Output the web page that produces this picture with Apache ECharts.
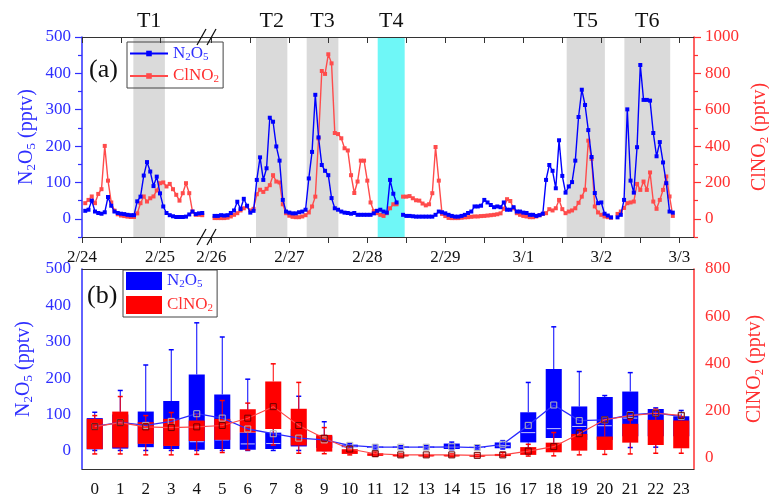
<!DOCTYPE html>
<html><head><meta charset="utf-8">
<script src="https://cdn.jsdelivr.net/npm/echarts@6/dist/echarts.min.js"></script>
<style>html,body{margin:0;padding:0;background:#fff}#c{width:769px;height:501px}</style>
</head><body><div id="c"></div>
<script>
// ---------- DATA ----------
// panel (a): hourly values; x in hours since 2/24 00:00
const seg1Start = 1;   // first point of segment before the break
const seg2Start = 49;  // first point of segment after the break
const n2o5Seg1 = [22, 25, 50, 20, 16, 14, 18, 60, 36, 20, 16, 14, 13, 11, 10, 10, 48, 61, 119, 156, 130, 90, 116, 70, 34, 16, 10, 7, 5, 5, 5, 6, 12, 20, 13, 15, 16];
const clno2Seg1 = [86, 104, 123, 86, 137, 163, 401, 210, 90, 45, 25, 18, 15, 12, 10, 10, 30, 86, 123, 95, 113, 123, 156, 196, 200, 178, 192, 163, 132, 100, 141, 196, 141, 40, 22, 22, 20];
const n2o5Seg2 = [8, 8, 10, 9, 10, 16, 23, 47, 27, 55, 36, 17, 22,
  107, 169, 107, 139, 278, 267, 199, 160, 52, 20, 17, 15, 15, 18, 20, 25,
  111, 184, 341, 224, 148, 132, 120, 57, 29, 25, 20, 17, 16, 14, 16, 11, 11, 11, 11, 11, 15, 22, 25, 20, 17, 107, 69, 45,
  null,
  11, 8, 8, 7, 6, 6, 6, 6, 6, 6, 11, 20, 18,
  15, 11, 8, 6, 6, 8, 11, 16, 20, 34, 34, 36, 52, 45, 38, 32, 34, 32, 45, 25, 25, 32, 20, 20, 17, 16, 11, 11, 8, 10, 14,
  107, 148, 132, 84, 216, 118, 72, 89, 101, 160, 280, 355, 313, 244, 170, 71, 43, 45, 14, 9, 4,
  null,
  4, 11, 52, 301, 105, 72, 197, 423, 327, 327, 325, 236, 172, 211, 155, 98, 20, 17];
const clno2Seg2 = [4, 4, 4, 4, 6, 13, 22, 31, 46, 58, 68, 46, 55,
  135, 160, 148, 165, 185, 240, 205, 200, 80, 31, 17, 11, 9, 9, 13, 20,
  35, 68, 122, 442, 813, 797, 905, 855, 472, 466, 443, 388, 376, 240, 142, 205, 320, 320, 210, 90, 43, 31, 22, 16, 31, 58, 80, 80,
  null,
  122, 122, 125, 113, 102, 100, 84, 74, 80, 141, 395, 210, 27, 15, 5,
  4, 4, 4, 6, 8, 9, 11, 13, 13, 15, 16, 18, 20, 22, 25, 30, 55, 108, 98, 58, 31, 22, 16, 13, 9, 9, 13,
  20, 27, 31, 53, 46, 58, 104, 53, 31, 40, 46, 58, 88, 122, 160, 430, 330, 68, 35, 22, 13, 9, 6,
  null,
  27, 40, 60, 86, 90, 95, 192, 159, 205, 159, 255, 95, 55, 104, 159, 233, 123, 16];
const periodNames = ['T1', 'T2', 'T3', 'T4', 'T5', 'T6'];
const periodStart = [15.8, 61.75, 77.35, 99.2, 157.35, 175.1];
const periodEnd = [25.5, 71.4, 87.1, 107.5, 169.1, 189.2];
const dayLabels = ['2/24', '2/25', '2/26', '2/27', '2/28', '2/29', '3/1', '3/2', '3/3'];

// panel (b): diurnal box statistics [min, Q1, median, Q3, max]
const hourLabels = ['0','1','2','3','4','5','6','7','8','9','10','11','12','13','14','15','16','17','18','19','20','21','22','23'];
const n2o5Box = [[1,4,20,90,106],[1,6,30,100,166],[1,10,21,108,236],[1,5,15,137,278],[1,3,25,210,352],[1,5,30,155,313],
  [1,3,19,50,197],[1,5,20,50,150],[1,12,18,60,150],[1,8,15,40,80],[8,10,13,17,20],[5,8,10,12,16],
  [6,8,10,12,14],[5,8,10,12,15],[3,5,10,20,24],[5,8,9,11,14],[5,7,14,23,28],[5,23,50,106,188],
  [5,35,61,225,341],[5,30,67,122,218],[5,30,69,148,152],[9,40,90,163,215],[10,40,80,115,118],[10,40,80,95,111]];
const clno2Box = [[14,35,100,163,177],[14,41,120,194,258],[10,57,110,149,177],[10,48,110,163,190],[12,69,115,156,185],[20,74,120,163,241],
  [31,105,150,204,230],[52,120,200,322,397],[17,50,120,206,318],[15,24,70,95,126],[10,14,25,34,48],[4,6,10,17,22],
  [2,4,6,10,14],[2,4,6,9,12],[2,4,6,10,14],[2,3,5,8,12],[3,5,8,14,20],[5,10,22,43,55],
  [6,21,40,62,105],[10,28,80,99,116],[12,31,70,88,160],[14,62,120,142,159],[17,52,130,159,204],[17,38,120,156,173]];
const n2o5Mean = [67, 78, 70, 81, 102, 90, 60, 47, 35, 30, 15, 10, 10, 10, 11, 9, 18, 70, 126, 83, 85, 99, 104, 95];
const clno2Mean = [130, 147, 129, 126, 129, 135, 166, 215, 135, 81, 35, 15, 10, 10, 10, 8, 10, 26, 45, 100, 159, 177, 187, 178];

// ---------- CHART ----------
const FONT = 'Liberation Serif';
const BLUE = '#0000ff', BLUE_T = '#2e2eff', RED = '#ff4b4b', RED_T = '#ff3030', FRAME = '#333';
const chart = echarts.init(document.getElementById('c'), null, {renderer: 'canvas'});

const toPts = (arr, start) => arr.map((v, i) => [start + i, v == null ? '-' : v]);
const dayHours = dayLabels.map((d, i) => i * 24);
const dayFmt = v => dayLabels[Math.round(v / 24)];
const range = (a, b, s) => { const r = []; for (let v = a; v <= b + 1e-9; v += s) r.push(v); return r; };
const sub = {s: {fontFamily: FONT, fontSize: 13, padding: [9, 0, 0, 0]}};
const subL = {s: {fontFamily: FONT, fontSize: 11, padding: [7, 0, 0, 0]}};
const nameN = 'N{s|2}O{s|5} (pptv)', nameC = 'ClNO{s|2} (pptv)';

const g0min = 0, g0max = 125 / 3.25;
const g1min = 48 - 4.3 / 3.25, g1max = g1min + 487 / 3.25;

function xVal(grid, min, max, pos, ticks, labels) {
  return {
    gridIndex: grid, type: 'value', min: min, max: max, position: pos, z: 10,
    axisLine: {onZero: false, lineStyle: {color: FRAME, width: 1}},
    axisTick: {customValues: ticks, inside: pos === 'top', length: 6, lineStyle: {color: FRAME}},
    axisLabel: labels ? {customValues: labels, formatter: dayFmt, fontFamily: FONT, fontSize: 17, color: '#111', margin: 12} : {show: false},
    splitLine: {show: false}
  };
}
function yVal(grid, min, max, pos, color, major, name, gap) {
  const ax = {
    gridIndex: grid, type: 'value', min: min, max: max, position: pos, z: 10,
    axisLine: {show: true, onZero: false, lineStyle: {color: color, width: 1.5}},
    axisTick: {customValues: major, length: 7, lineStyle: {color: color, width: 1.2}},
    axisLabel: {customValues: major, formatter: v => String(v), fontFamily: FONT, fontSize: 17, color: color, margin: 11},
    splitLine: {show: false}
  };
  if (name) {
    ax.name = name; ax.nameLocation = 'middle'; ax.nameRotate = 90; ax.nameGap = gap;
    ax.nameTextStyle = {fontFamily: FONT, fontSize: 20, color: color, rich: sub};
  }
  return ax;
}
function yMinor(grid, min, max, pos, color, ticks) {
  return {
    gridIndex: grid, type: 'value', min: min, max: max, position: pos, z: 10,
    axisLine: {show: false, onZero: false},
    axisTick: {customValues: ticks, length: 4, lineStyle: {color: color, width: 1.2}},
    axisLabel: {show: false}, splitLine: {show: false}
  };
}

function boxRender(color, medColor) {
  return function (params, api) {
    const xi = api.value(0);
    const pMin = api.coord([xi, api.value(1)]);
    const pQ1 = api.coord([xi, api.value(2)]);
    const pMed = api.coord([xi, api.value(3)]);
    const pQ3 = api.coord([xi, api.value(4)]);
    const pMax = api.coord([xi, api.value(5)]);
    const bw = api.size([1, 0])[0] * 0.63;
    const cx = pQ1[0], cap = 5;
    const ln = (x1, y1, x2, y2, c, w) => ({type: 'line', shape: {x1, y1, x2, y2}, style: {stroke: c, lineWidth: w}});
    return {type: 'group', children: [
      ln(cx, pMax[1], cx, pQ3[1], color, 1),
      ln(cx, pQ1[1], cx, pMin[1], color, 1),
      ln(cx - cap / 2, pMax[1], cx + cap / 2, pMax[1], color, 1.5),
      ln(cx - cap / 2, pMin[1], cx + cap / 2, pMin[1], color, 1.5),
      {type: 'rect', shape: {x: cx - bw / 2, y: pQ3[1], width: bw, height: Math.max(1, pQ1[1] - pQ3[1])}, style: {fill: color}},
      ln(cx - bw / 2 + 1, pMed[1], cx + bw / 2 - 1, pMed[1], medColor, 1)
    ]};
  };
}

const areaItem = (i, color) => [{name: periodNames[i], xAxis: periodStart[i], itemStyle: {color: color}}, {xAxis: periodEnd[i]}];
const markAreaCfg = idx => ({
  silent: true,
  label: {show: true, position: 'top', distance: 5, fontFamily: FONT, fontSize: 22, color: '#111'},
  data: idx.map(i => areaItem(i, periodNames[i] === 'T4' ? '#6ff7f7' : '#dadada'))
});
const lineSeries = (name, xi, yi, data, color, extra) => Object.assign({
  type: 'line', name: name, xAxisIndex: xi, yAxisIndex: yi, data: data,
  symbol: 'rect', symbolSize: 4, showSymbol: true, connectNulls: false,
  lineStyle: {color: color, width: 1.4}, itemStyle: {color: color}, animation: false
}, extra || {});

const legendFmt = n => n.indexOf('N2O5') === 0 ? 'N{s|2}O{s|5}' : 'ClNO{s|2}';
const gridBase = {outerBoundsMode: 'none', containLabel: false};

const option = {
  animation: false,
  backgroundColor: '#fff',
  textStyle: {fontFamily: FONT},
  grid: [
    Object.assign({left: 82, top: 37, width: 125, height: 200}, gridBase),
    Object.assign({left: 207, top: 37, width: 487, height: 200}, gridBase),
    Object.assign({left: 82, top: 269, width: 612, height: 200}, gridBase)
  ],
  xAxis: [
    xVal(0, g0min, g0max, 'bottom', [0, 12, 24], [0, 24]),
    xVal(0, g0min, g0max, 'top', [0, 12, 24], null),
    xVal(1, g1min, g1max, 'bottom', range(48, 192, 12), dayHours.slice(2)),
    xVal(1, g1min, g1max, 'top', range(48, 192, 12), null),
    {gridIndex: 2, type: 'category', data: hourLabels, boundaryGap: true, position: 'bottom', z: 10,
      axisLine: {onZero: false, lineStyle: {color: FRAME}},
      axisTick: {alignWithLabel: true, length: 7, lineStyle: {color: FRAME}},
      axisLabel: {fontFamily: FONT, fontSize: 17, color: '#111', margin: 12, interval: 0}},
    {gridIndex: 2, type: 'category', data: hourLabels, boundaryGap: true, position: 'top', z: 10,
      axisLine: {onZero: false, lineStyle: {color: FRAME}}, axisTick: {show: false}, axisLabel: {show: false}}
  ],
  yAxis: [
    yVal(0, -50, 500, 'left', BLUE_T, range(0, 500, 100), nameN, 44),
    {gridIndex: 0, type: 'value', min: -100, max: 1000, show: false},
    {gridIndex: 1, type: 'value', min: -50, max: 500, show: false},
    yVal(1, -100, 1000, 'right', RED_T, range(0, 1000, 200), nameC, 50),
    yVal(2, -50, 500, 'left', BLUE_T, range(0, 500, 100), nameN, 44),
    yVal(2, -50, 800, 'right', RED_T, range(0, 800, 200), nameC, 50),
    yMinor(0, -50, 500, 'left', BLUE_T, range(-50, 450, 100)),
    yMinor(1, -100, 1000, 'right', RED_T, range(-100, 900, 200)),
    yMinor(2, -50, 500, 'left', BLUE_T, range(-50, 450, 100)),
    yMinor(2, -50, 800, 'right', RED_T, range(100, 700, 200))
  ],
  legend: [
    {data: [{name: 'N2O5', textStyle: {color: BLUE_T}}, {name: 'ClNO2', textStyle: {color: RED_T}}],
      orient: 'vertical', left: 127, top: 42, itemWidth: 38, itemHeight: 7, itemGap: 5,
      padding: [3, 4, 3, 2], borderColor: '#444', borderWidth: 1, selectedMode: false,
      textStyle: {fontFamily: FONT, fontSize: 17, rich: subL}, formatter: legendFmt},
    {data: [{name: 'N2O5 box', textStyle: {color: BLUE_T}}, {name: 'ClNO2 box', textStyle: {color: RED_T}}],
      orient: 'vertical', left: 123, top: 270, icon: 'rect', itemWidth: 36, itemHeight: 18, itemGap: 6,
      padding: [2, 4, 3, 3], borderColor: '#444', borderWidth: 1, backgroundColor: '#fff', selectedMode: false,
      textStyle: {fontFamily: FONT, fontSize: 17, rich: subL}, formatter: legendFmt}
  ],
  graphic: [
    {type: 'text', left: 89, top: 57, style: {text: '(a)', font: '26px ' + FONT, fill: '#111'}},
    {type: 'text', left: 87, top: 283, style: {text: '(b)', font: '26px ' + FONT, fill: '#111'}},
    {type: 'line', shape: {x1: 197, y1: 45, x2: 206, y2: 29}, style: {stroke: '#111', lineWidth: 1.3}, z: 100},
    {type: 'line', shape: {x1: 207, y1: 45, x2: 216, y2: 29}, style: {stroke: '#111', lineWidth: 1.3}, z: 100},
    {type: 'line', shape: {x1: 197, y1: 245, x2: 206, y2: 229}, style: {stroke: '#111', lineWidth: 1.3}, z: 100},
    {type: 'line', shape: {x1: 207, y1: 245, x2: 216, y2: 229}, style: {stroke: '#111', lineWidth: 1.3}, z: 100}
  ],
  series: [
    lineSeries('ClNO2', 0, 1, toPts(clno2Seg1, seg1Start), RED, {markArea: markAreaCfg([0]), z: 2}),
    lineSeries('N2O5', 0, 0, toPts(n2o5Seg1, seg1Start), BLUE, {z: 3}),
    lineSeries('ClNO2', 2, 3, toPts(clno2Seg2, seg2Start), RED, {markArea: markAreaCfg([1, 2, 3, 4, 5]), z: 2}),
    lineSeries('N2O5', 2, 2, toPts(n2o5Seg2, seg2Start), BLUE, {z: 3}),
    {type: 'custom', name: 'N2O5 box', xAxisIndex: 4, yAxisIndex: 4, z: 2,
      data: n2o5Box.map((b, i) => [i].concat(b)), encode: {x: 0, y: [1, 2, 3, 4, 5]},
      itemStyle: {color: BLUE}, renderItem: boxRender(BLUE, '#c8c8ff')},
    {type: 'custom', name: 'ClNO2 box', xAxisIndex: 4, yAxisIndex: 5, z: 3,
      data: clno2Box.map((b, i) => [i].concat(b)), encode: {x: 0, y: [1, 2, 3, 4, 5]},
      itemStyle: {color: '#ff0000'}, renderItem: boxRender('#ff0000', '#ff0000')},
    {type: 'line', name: 'N2O5 mean', xAxisIndex: 4, yAxisIndex: 4, data: n2o5Mean, z: 4,
      symbol: 'rect', symbolSize: 6, lineStyle: {color: '#2a2aff', width: 1.3},
      itemStyle: {color: 'none', borderColor: '#b8b8b8', borderWidth: 1}},
    {type: 'line', name: 'ClNO2 mean', xAxisIndex: 4, yAxisIndex: 5, data: clno2Mean, z: 5,
      symbol: 'rect', symbolSize: 6, lineStyle: {color: '#ff4545', width: 1.1},
      itemStyle: {color: 'none', borderColor: '#6a0000', borderWidth: 1}}
  ]
};
chart.setOption(option);
</script></body></html>
